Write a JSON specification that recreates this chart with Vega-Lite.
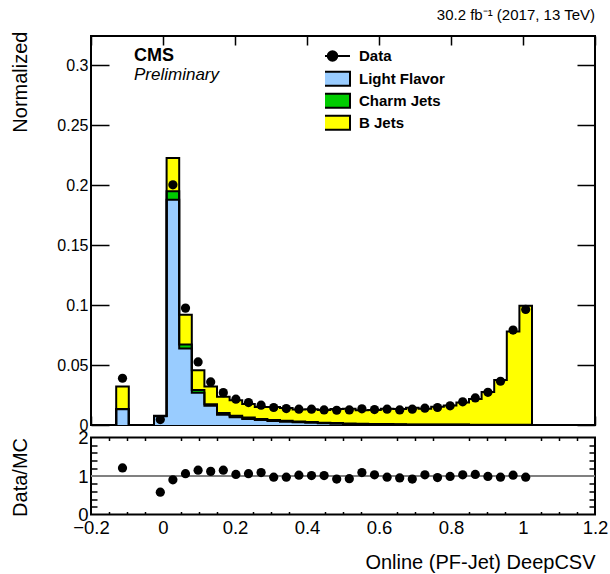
{
  "$schema": "https://vega.github.io/schema/vega-lite/v6.json",
  "padding": {"left": 8, "top": 6, "right": 10, "bottom": 2},
  "spacing": 12.5,
  "bounds": "flush",
  "config": {
    "font": "Liberation Sans",
    "view": {"stroke": "black", "strokeWidth": 2},
    "axis": {"domain": false, "ticks": false, "grid": true, "gridColor": "black", "gridWidth": 1.5, "gridOpacity": 1, "zindex": 1, "labelColor": "black", "titleColor": "black", "labelFont": "Liberation Sans", "titleFont": "Liberation Sans", "titleFontWeight": "normal", "labelOverlap": false, "labelFlush": false, "format": "~g"}
  },
  "datasets": {
    "bins": [
      {"x": -0.1825, "light": 0, "charm": 0, "bjet": 0},
      {"x": -0.1475, "light": 0, "charm": 0, "bjet": 0},
      {"x": -0.1125, "light": 0.0131, "charm": 0.0002, "bjet": 0.0189, "data": 0.0390, "ratio": 1.21},
      {"x": -0.0775, "light": 0, "charm": 0, "bjet": 0},
      {"x": -0.0425, "light": 0, "charm": 0, "bjet": 0},
      {"x": -0.0075, "light": 0.0074, "charm": 0.0002, "bjet": 0.0002, "data": 0.0045, "ratio": 0.58},
      {"x": 0.0275, "light": 0.1879, "charm": 0.0070, "bjet": 0.0278, "data": 0.2004, "ratio": 0.90},
      {"x": 0.0625, "light": 0.0639, "charm": 0.0033, "bjet": 0.0248, "data": 0.0975, "ratio": 1.06},
      {"x": 0.0975, "light": 0.0270, "charm": 0.0023, "bjet": 0.0164, "data": 0.0526, "ratio": 1.15},
      {"x": 0.1325, "light": 0.0160, "charm": 0.0013, "bjet": 0.0148, "data": 0.0359, "ratio": 1.12},
      {"x": 0.1675, "light": 0.0085, "charm": 0.0015, "bjet": 0.0135, "data": 0.0270, "ratio": 1.15},
      {"x": 0.2025, "light": 0.0064, "charm": 0.0014, "bjet": 0.0129, "data": 0.0215, "ratio": 1.04},
      {"x": 0.2375, "light": 0.0050, "charm": 0.0012, "bjet": 0.0114, "data": 0.0187, "ratio": 1.06},
      {"x": 0.2725, "light": 0.0041, "charm": 0.0010, "bjet": 0.0100, "data": 0.0165, "ratio": 1.09},
      {"x": 0.3075, "light": 0.0033, "charm": 0.0009, "bjet": 0.0108, "data": 0.0146, "ratio": 0.97},
      {"x": 0.3425, "light": 0.0027, "charm": 0.0008, "bjet": 0.0106, "data": 0.0137, "ratio": 0.97},
      {"x": 0.3775, "light": 0.0022, "charm": 0.0007, "bjet": 0.0100, "data": 0.0132, "ratio": 1.02},
      {"x": 0.4125, "light": 0.0018, "charm": 0.0006, "bjet": 0.0107, "data": 0.0132, "ratio": 1.01},
      {"x": 0.4475, "light": 0.0014, "charm": 0.0005, "bjet": 0.0106, "data": 0.0126, "ratio": 1.01},
      {"x": 0.4825, "light": 0.0011, "charm": 0.0005, "bjet": 0.0118, "data": 0.0123, "ratio": 0.92},
      {"x": 0.5175, "light": 0.0009, "charm": 0.0004, "bjet": 0.0122, "data": 0.0126, "ratio": 0.93},
      {"x": 0.5525, "light": 0.0007, "charm": 0.0004, "bjet": 0.0113, "data": 0.0135, "ratio": 1.09},
      {"x": 0.5875, "light": 0.0006, "charm": 0.0003, "bjet": 0.0116, "data": 0.0129, "ratio": 1.03},
      {"x": 0.6225, "light": 0.0005, "charm": 0.0003, "bjet": 0.0128, "data": 0.0132, "ratio": 0.97},
      {"x": 0.6575, "light": 0.0004, "charm": 0.0003, "bjet": 0.0126, "data": 0.0126, "ratio": 0.95},
      {"x": 0.6925, "light": 0.0003, "charm": 0.0002, "bjet": 0.0138, "data": 0.0132, "ratio": 0.92},
      {"x": 0.7275, "light": 0.0003, "charm": 0.0002, "bjet": 0.0131, "data": 0.0140, "ratio": 1.03},
      {"x": 0.7625, "light": 0.0002, "charm": 0.0002, "bjet": 0.0148, "data": 0.0146, "ratio": 0.96},
      {"x": 0.7975, "light": 0.0002, "charm": 0.0002, "bjet": 0.0158, "data": 0.0160, "ratio": 0.99},
      {"x": 0.8325, "light": 0.0002, "charm": 0.0002, "bjet": 0.0183, "data": 0.0193, "ratio": 1.03},
      {"x": 0.8675, "light": 0.0001, "charm": 0.0002, "bjet": 0.0214, "data": 0.0226, "ratio": 1.04},
      {"x": 0.9025, "light": 0.0001, "charm": 0.0002, "bjet": 0.0273, "data": 0.0273, "ratio": 0.99},
      {"x": 0.9375, "light": 0.0001, "charm": 0.0002, "bjet": 0.0373, "data": 0.0365, "ratio": 0.97},
      {"x": 0.9725, "light": 0.0001, "charm": 0.0002, "bjet": 0.0777, "data": 0.0792, "ratio": 1.02},
      {"x": 1.0075, "light": 0.0001, "charm": 0.0002, "bjet": 0.0991, "data": 0.0964, "ratio": 0.97},
      {"x": 1.0425, "light": 0, "charm": 0, "bjet": 0},
      {"x": 1.0775, "light": 0, "charm": 0, "bjet": 0},
      {"x": 1.1125, "light": 0, "charm": 0, "bjet": 0},
      {"x": 1.1475, "light": 0, "charm": 0, "bjet": 0},
      {"x": 1.1825, "light": 0, "charm": 0, "bjet": 0}
    ]
  },
  "vconcat": [
    {
      "width": 504,
      "height": 389,
      "data": {"name": "bins"},
      "title": {"text": "30.2 fb⁻¹ (2017, 13 TeV)", "anchor": "end", "fontSize": 15, "fontWeight": "normal", "font": "Liberation Sans", "color": "black", "offset": -3.5, "baseline": "alphabetic"},
      "layer": [
        {
          "transform": [
            {"fold": ["light", "charm", "bjet"], "as": ["key", "value"]},
            {"stack": "value", "groupby": ["x"], "sort": [{"field": "key", "order": "descending"}], "as": ["y0", "y1"]}
          ],
          "mark": {"type": "area", "interpolate": "step", "opacity": 1},
          "encoding": {
            "x": {"field": "x", "type": "quantitative", "scale": {"domain": [-0.2, 1.2], "nice": false, "zero": false},
              "axis": {"orient": "bottom", "values": [-0.2, 0, 0.2, 0.4, 0.6, 0.8, 1, 1.2], "labels": false, "title": null, "gridDash": [9, 371]}},
            "y": {"field": "y1", "type": "quantitative", "stack": null, "scale": {"domain": [0, 0.3245], "nice": false},
              "axis": {"orient": "left", "values": [0, 0.05, 0.1, 0.15, 0.2, 0.25, 0.3], "gridDash": [18, 468],
                "labelFontSize": 16, "labelPadding": 3,
                "title": "Normalized", "titleFontSize": 20, "titleX": -71, "titleY": -5, "titleAngle": -90, "titleAlign": "right", "titleBaseline": "middle"}},
            "y2": {"field": "y0"},
            "color": {"field": "key", "type": "nominal",
              "scale": {"domain": ["light", "charm", "bjet"], "range": ["#99ccff", "#00cc00", "#ffff00"]},
              "legend": {"orient": "none", "legendX": 234, "legendY": 32, "title": null, "padding": 0, "symbolSize": 100, "labelOffset": 19, "rowPadding": 0, "clipHeight": 21.5,
                "symbolType": "M-3.5,-1.4H3.5V1.4H-3.5Z", "symbolStrokeColor": "black", "symbolStrokeWidth": 2, "symbolOpacity": 1,
                "labelFont": "Liberation Sans", "labelFontSize": 15, "labelFontWeight": "bold", "labelColor": "black",
                "labelExpr": "{'light': 'Light Flavor', 'charm': 'Charm Jets', 'bjet': 'B Jets'}[datum.label]"}}
          }
        },
        {
          "transform": [
            {"fold": ["light", "charm", "bjet"], "as": ["key", "value"]},
            {"stack": "value", "groupby": ["x"], "sort": [{"field": "key", "order": "descending"}], "as": ["y0", "y1"]}
          ],
          "mark": {"type": "line", "interpolate": "step", "color": "black", "strokeWidth": 2},
          "encoding": {
            "x": {"field": "x", "type": "quantitative", "scale": {"domain": [-0.2, 1.2], "nice": false, "zero": false},
              "axis": {"orient": "bottom", "values": [-0.15,-0.1,-0.05,0.05,0.1,0.15,0.25,0.3,0.35,0.45,0.5,0.55,0.65,0.7,0.75,0.85,0.9,0.95,1.05,1.1,1.15], "labels": false, "title": null, "gridDash": [5, 379]}},
            "y": {"field": "y1", "type": "quantitative", "stack": null, "scale": {"domain": [0, 0.3245], "nice": false},
              "axis": {"orient": "left", "values": [0.01,0.02,0.03,0.04,0.06,0.07,0.08,0.09,0.11,0.12,0.13,0.14,0.16,0.17,0.18,0.19,0.21,0.22,0.23,0.24,0.26,0.27,0.28,0.29,0.31,0.32], "labels": false, "title": null, "gridDash": [9, 486]}},
            "detail": {"field": "key"}
          }
        },
        {
          "mark": {"type": "point", "filled": true, "size": 85, "opacity": 1},
          "encoding": {
            "x": {"field": "x", "type": "quantitative", "axis": null},
            "y": {"field": "data", "type": "quantitative", "axis": null},
            "color": {"datum": "Data", "type": "nominal", "scale": {"range": ["#000000"]},
              "legend": {"orient": "none", "legendX": 234, "legendY": 9.25, "title": null, "padding": 0, "symbolSize": 100, "labelOffset": 19, "clipHeight": 21.5,
                "symbolType": "M-3.5,0H3.5M0.95,0A0.95,0.95,0,1,1,-0.95,0A0.95,0.95,0,1,1,0.95,0Z", "symbolStrokeColor": "black", "symbolStrokeWidth": 2, "symbolFillColor": "black", "symbolOpacity": 1,
                "labelFont": "Liberation Sans", "labelFontSize": 15, "labelFontWeight": "bold", "labelColor": "black"}}
          }
        },
        {
          "data": {"values": [{}]},
          "mark": {"type": "text", "text": "CMS", "align": "left", "baseline": "alphabetic", "fontSize": 18, "fontWeight": "bold", "font": "Liberation Sans", "color": "black"},
          "encoding": {
            "x": {"datum": -0.0806, "type": "quantitative", "axis": null},
            "y": {"datum": 0.3035, "type": "quantitative", "axis": null}
          }
        },
        {
          "data": {"values": [{}]},
          "mark": {"type": "text", "text": "Preliminary", "align": "left", "baseline": "alphabetic", "fontSize": 17, "fontStyle": "italic", "font": "Liberation Sans", "color": "black"},
          "encoding": {
            "x": {"datum": -0.0806, "type": "quantitative", "axis": null},
            "y": {"datum": 0.2875, "type": "quantitative", "axis": null}
          }
        }
      ],
      "resolve": {"axis": {"x": "independent", "y": "independent"}, "scale": {"color": "independent"}}
    },
    {
      "width": 504,
      "height": 77,
      "layer": [
        {
          "data": {"values": [{}]},
          "mark": {"type": "rule", "color": "#808080", "strokeWidth": 2},
          "encoding": {
            "x": {"datum": -0.2, "type": "quantitative", "scale": {"domain": [-0.2, 1.2], "nice": false, "zero": false},
              "axis": {"orient": "bottom", "values": [-0.15,-0.1,-0.05,0.05,0.1,0.15,0.25,0.3,0.35,0.45,0.5,0.55,0.65,0.7,0.75,0.85,0.9,0.95,1.05,1.1,1.15], "labels": false, "title": null, "gridDash": [3, 71]}},
            "x2": {"datum": 1.2},
            "y": {"datum": 1, "type": "quantitative", "scale": {"domain": [0, 2], "nice": false},
              "axis": {"orient": "left", "values": [0.2, 0.4, 0.6, 0.8, 1.2, 1.4, 1.6, 1.8], "labels": false, "title": null, "gridDash": [6, 492]}}
          }
        },
        {
          "data": {"name": "bins"},
          "mark": {"type": "point", "filled": true, "size": 85, "color": "black", "opacity": 1},
          "encoding": {
            "x": {"field": "x", "type": "quantitative", "scale": {"domain": [-0.2, 1.2], "nice": false, "zero": false},
              "axis": {"orient": "bottom", "values": [-0.2, 0, 0.2, 0.4, 0.6, 0.8, 1, 1.2], "gridDash": [5, 67],
                "labelFontSize": 18.5, "labelPadding": 4,
                "title": "Online (PF-Jet) DeepCSV", "titleFontSize": 20, "titleX": 504, "titleY": 54, "titleAlign": "right", "titleBaseline": "alphabetic"}},
            "y": {"field": "ratio", "type": "quantitative", "scale": {"domain": [0, 2], "nice": false},
              "axis": {"orient": "left", "values": [0, 1, 2], "gridDash": [12, 480],
                "labelFontSize": 18.5, "labelPadding": 3,
                "title": "Data/MC", "titleFontSize": 20, "titleX": -71, "titleY": 0, "titleAngle": -90, "titleAlign": "right", "titleBaseline": "middle"}}
          }
        }
      ],
      "resolve": {"axis": {"x": "independent", "y": "independent"}}
    }
  ]
}
